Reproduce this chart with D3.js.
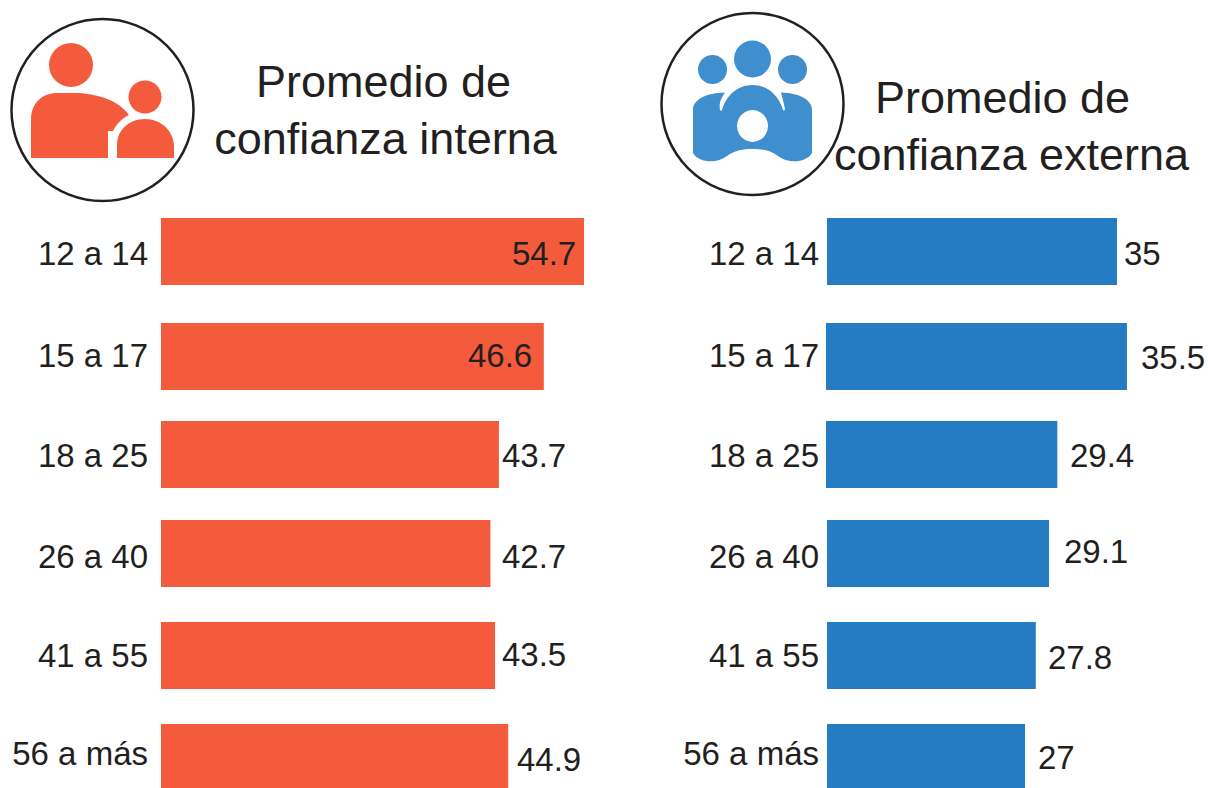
<!DOCTYPE html>
<html>
<head>
<meta charset="utf-8">
<title>Promedio de confianza</title>
<script src="https://d3js.org/d3.v7.min.js"></script>
<style>
  html, body { margin: 0; padding: 0; background: #fff; }
  svg { display: block; }
  text { font-family: "Liberation Sans", Arial, sans-serif; fill: #231f20; }
</style>
</head>
<body>
<div id="chart"></div>
<script>
// Age groups
const edades = ["12 a 14", "15 a 17", "18 a 25", "26 a 40", "41 a 55", "56 a más"];

// Printed values
const internaLabels = ["54.7", "46.6", "43.7", "42.7", "43.5", "44.9"];
const externaLabels = ["35", "35.5", "29.4", "29.1", "27.8", "27"];

// Bar lengths as drawn in the picture (they do not always agree with the printed number)
const internaBarras = [54.7, 49.5, 43.7, 42.6, 43.2, 44.9];
const externaBarras = [35, 36.2, 27.8, 26.8, 25.2, 23.9];

// Layout of the picture: rows are unevenly spaced
const rowTop = [218, 323, 421, 520, 622, 724];
const rowBottom = [285, 390, 488, 587, 689, 788];
const y0 = d3.scaleOrdinal().domain(edades).range(rowTop);
const y1 = d3.scaleOrdinal().domain(edades).range(rowBottom);

const svg = d3.select("#chart").append("svg")
  .attr("width", 1208)
  .attr("height", 788);

const xInt = d3.scaleLinear().domain([0, 54.7]).range([161, 584]);
const xExt = d3.scaleLinear().domain([0, 35]).range([827, 1117]);

function panel(x, barras, labels, color, catX, startDx, labelX, labelDy) {
  const g = svg.append("g");
  g.selectAll("rect").data(edades).enter().append("rect")
    .attr("x", (d, i) => x(0) + startDx[i])
    .attr("y", d => y0(d))
    .attr("width", (d, i) => x(barras[i]) - x(0) - startDx[i])
    .attr("height", d => y1(d) - y0(d))
    .attr("fill", color);

  // small hand placed shifts from the original layout
  const catDy = [1, -2, 0, 2, -1, -3];
  g.selectAll(".cat").data(edades).enter().append("text")
    .attr("class", "cat")
    .attr("x", catX)
    .attr("y", (d, i) => (y0(d) + y1(d)) / 2 + 12 + catDy[i])
    .attr("text-anchor", "end")
    .attr("font-size", 33)
    .text(d => d);

  g.selectAll(".val").data(edades).enter().append("text")
    .attr("class", "val")
    .attr("x", (d, i) => labelX[i])
    .attr("y", (d, i) => (y0(d) + y1(d)) / 2 + 12 + labelDy[i])
    .attr("font-size", 33)
    .text((d, i) => labels[i]);
}

panel(xInt, internaBarras, internaLabels, "#f35b3c", 148, [0, 0, 0, 0, 0, 0],
  [512, 468, 502, 502, 502, 517], [1, -2, 0, 2, -2, 3]);
panel(xExt, externaBarras, externaLabels, "#267cc2", 819, [0, -1, -1, 0, 0, 0],
  [1124, 1141, 1070, 1064, 1048, 1038], [1, 0, 0, -3, 1, 1]);

// Titles
function title(lines, xs, y) {
  svg.append("text")
    .attr("text-anchor", "middle")
    .attr("font-size", 45)
    .selectAll("tspan").data(lines).enter().append("tspan")
    .attr("x", (d, i) => xs[i])
    .attr("y", (d, i) => y + i * 57)
    .text(d => d);
}
title(["Promedio de", "confianza interna"], [383.5, 385.5], 97);
title(["Promedio de", "confianza externa"], [1002.5, 1011.5], 113);

// Icons
const ring = (cx, cy) => svg.append("circle")
  .attr("cx", cx).attr("cy", cy).attr("r", 91)
  .attr("fill", "none").attr("stroke", "#231f20").attr("stroke-width", 2.5);
ring(102.5, 110);
ring(752.5, 104);

const red = svg.append("g").attr("fill", "#f35b3c");
red.append("circle").attr("cx", 71).attr("cy", 65).attr("r", 22);
red.append("circle").attr("cx", 145).attr("cy", 97).attr("r", 16.5);
red.append("path").attr("d", "M31 158V120C31 103 42 93 58 93H80C100 95 118 100 129 115C121 119 116 125 113 131H108V158Z");
red.append("path").attr("d", "M117 158V145C117 130 129 119 145 119C161 119 174 131 174 147V158Z");

const blue = svg.append("g").attr("fill", "#3f8fce");
blue.append("circle").attr("cx", 752.5).attr("cy", 59).attr("r", 18.5);
blue.append("circle").attr("cx", 712.5).attr("cy", 69.5).attr("r", 14.5);
blue.append("circle").attr("cx", 792.5).attr("cy", 69.5).attr("r", 14.5);
blue.append("path").attr("fill-rule", "evenodd").attr("d",
  "M693 153V110C693 99 707 93 725 92.5C720 100 719 104 720 110C721 111 721 111 722 110C726 96 737 85 752.5 85C768 85 779 96 783 110C784 111 785 110 785 109C784 104 783 100 781 92.5C798 93 812 99 812 110V153C806 163 788 164 778 156C770 150 762 149 752.5 149C743 149 735 150 727 156C717 164 699 163 693 153Z" +
  "M752.5 110a15.5 16 0 1 0 .01 0Z");
</script>
</body>
</html>
